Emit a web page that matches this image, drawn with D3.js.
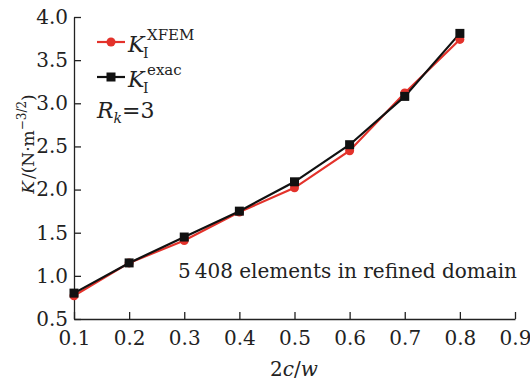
<!DOCTYPE html>
<html>
<head>
<meta charset="utf-8">
<script src="https://cdn.jsdelivr.net/npm/d3@7"></script>
<style>
  body { margin: 0; background: #fff; }
  svg text { font-family: "DejaVu Serif", serif; fill: #222; }
</style>
</head>
<body>
<script>
// data
var ratios = [0.1, 0.2, 0.3, 0.4, 0.5, 0.6, 0.7, 0.8];
var kXfem  = [0.77, 1.15, 1.41, 1.74, 2.02, 2.45, 3.12, 3.74];
var kExact = [0.80, 1.15, 1.45, 1.75, 2.09, 2.52, 3.08, 3.81];
var xTicks = [0.1, 0.2, 0.3, 0.4, 0.5, 0.6, 0.7, 0.8, 0.9];
var yTicks = [0.5, 1.0, 1.5, 2.0, 2.5, 3.0, 3.5, 4.0];

var width = 530, height = 383;
var mLeft = 74, mRight = 515, mTop = 17, mBottom = 319;
var red = "#e3322b";
var fontFam = "DejaVu Serif, serif";

var svg = d3.select("body").append("svg")
    .attr("width", width)
    .attr("height", height);

var x = d3.scaleLinear().domain([0.1, 0.9]).range([mLeft, mRight]);
var y = d3.scaleLinear().domain([0.5, 4.0]).range([mBottom, mTop]);

//axes, ticks pointing into the plot
var xAxis = svg.append("g")
    .attr("transform", "translate(0," + mBottom + ")")
    .call(d3.axisBottom(x).tickValues(xTicks).tickSizeInner(-7).tickSizeOuter(0)
        .tickFormat(d3.format(".1f")));
var yAxis = svg.append("g")
    .attr("transform", "translate(" + mLeft + ",0)")
    .call(d3.axisLeft(y).tickValues(yTicks).tickSizeInner(-7).tickSizeOuter(0)
        .tickFormat(d3.format(".1f")));

[xAxis, yAxis].forEach(function(a){
    a.select(".domain").attr("stroke", "#222").attr("stroke-width", 1.3);
    a.selectAll(".tick line").attr("stroke", "#222").attr("stroke-width", 1.3);
    a.selectAll(".tick text").attr("fill", "#222")
        .style("font-size", "20px").style("font-family", fontFam);
});
xAxis.selectAll(".tick text").attr("y", 12);
yAxis.selectAll(".tick text").attr("x", -6);

// series
var line = d3.line()
    .x(function(d){ return x(d[0]); })
    .y(function(d){ return y(d[1]); });

var xfemPts = ratios.map(function(r, i){ return [r, kXfem[i]]; });
var exactPts = ratios.map(function(r, i){ return [r, kExact[i]]; });

svg.append("path").datum(xfemPts)
    .attr("d", line).attr("fill", "none")
    .attr("stroke", red).attr("stroke-width", 2.2);
svg.append("path").datum(exactPts)
    .attr("d", line).attr("fill", "none")
    .attr("stroke", "#111").attr("stroke-width", 2.2);

svg.selectAll("circle.xfem").data(xfemPts).enter().append("circle")
    .attr("class", "xfem")
    .attr("cx", function(d){ return x(d[0]); })
    .attr("cy", function(d){ return y(d[1]); })
    .attr("r", 4.5).attr("fill", red);

var sq = 9;
svg.selectAll("rect.exact").data(exactPts).enter().append("rect")
    .attr("class", "exact")
    .attr("x", function(d){ return x(d[0]) - sq/2; })
    .attr("y", function(d){ return y(d[1]) - sq/2; })
    .attr("width", sq).attr("height", sq).attr("fill", "#111");

// legend
var legend = svg.append("g");
var items = [
    {sup: "XFEM", color: red, mark: "circle", y: 42},
    {sup: "exac", color: "#111", mark: "square", y: 77}
];
items.forEach(function(it){
    legend.append("line")
        .attr("x1", 97).attr("x2", 125)
        .attr("y1", it.y).attr("y2", it.y)
        .attr("stroke", it.color).attr("stroke-width", 2.2);
    if (it.mark === "circle") {
        legend.append("circle").attr("cx", 111).attr("cy", it.y).attr("r", 4.5).attr("fill", it.color);
    } else {
        legend.append("rect").attr("x", 111 - sq/2).attr("y", it.y - sq/2)
            .attr("width", sq).attr("height", sq).attr("fill", it.color);
    }
    var t = legend.append("text").attr("x", 128).attr("y", it.y + 10)
        .style("font-size", "22px");
    t.append("tspan").style("font-style", "italic").text("K");
    t.append("tspan").attr("x", 143).attr("y", it.y + 16).style("font-size", "14px").text("I");
    t.append("tspan").attr("x", 147).attr("y", it.y - 2).style("font-size", "15px").text(it.sup);
});

var rk = svg.append("text").attr("x", 97).attr("y", 118).style("font-size", "22px");
rk.append("tspan").style("font-style", "italic").text("R");
rk.append("tspan").attr("dy", 5).style("font-size", "14px").style("font-style", "italic").text("k");
rk.append("tspan").attr("dy", -5).text("=3");

// annotation
svg.append("text").attr("x", 178).attr("y", 278)
    .style("font-size", "20px")
    .text("5\u2009408 elements in refined domain");

// axis titles
var xt = svg.append("text").attr("x", 294).attr("y", 376)
    .attr("text-anchor", "middle").style("font-size", "20px");
xt.append("tspan").text("2");
xt.append("tspan").style("font-style", "italic").text("c");
xt.append("tspan").text("/");
xt.append("tspan").style("font-style", "italic").text("w");

var yt = svg.append("text")
    .attr("transform", "translate(34,144) rotate(-90)")
    .attr("text-anchor", "middle").style("font-size", "17px");
yt.append("tspan").style("font-style", "italic").text("K");
yt.append("tspan").attr("dx", 2).text("/(N\u00b7m");
yt.append("tspan").attr("dy", -8).style("font-size", "12px").text("\u22123/2");
yt.append("tspan").attr("dy", 8).text(")");
</script>
</body>
</html>
